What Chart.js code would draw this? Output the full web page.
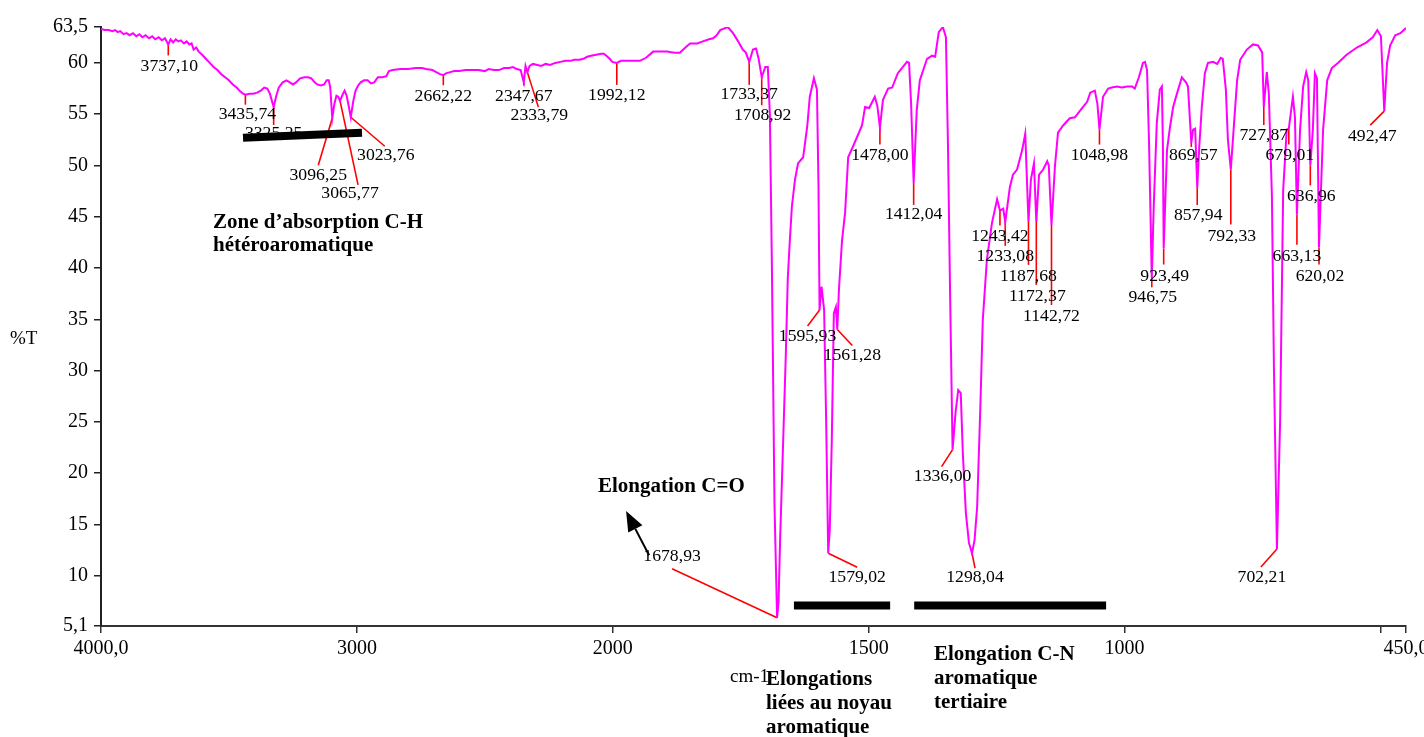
<!DOCTYPE html>
<html>
<head>
<meta charset="utf-8">
<script src="https://cdn.jsdelivr.net/npm/chart.js@4.4.0/dist/chart.umd.min.js"></script>
<style>
  html, body { margin: 0; padding: 0; background: #fff; }
  #wrap { width: 1424px; height: 737px; position: relative; }
</style>
</head>
<body>
<div id="wrap"><canvas id="spectre"></canvas></div>
<script>
// spectre IR : nombre d'onde (cm-1) et transmittance (%T)
const wavenumbers = [
  4000, 3985, 3970, 3955, 3945, 3935, 3925, 3912, 3900, 3888, 3875, 3862, 3850, 3838, 3826, 3812,
  3800, 3788, 3775, 3762, 3750, 3737.1, 3728, 3718, 3708, 3698, 3688, 3676, 3665, 3655, 3646, 3638,
  3628, 3618, 3605, 3590, 3575, 3560, 3545, 3530, 3515, 3500, 3485, 3470, 3455, 3445, 3435.74, 3420,
  3405, 3390, 3375, 3362, 3350, 3340, 3325.25, 3315, 3305, 3290, 3275, 3262, 3250, 3238, 3222, 3205,
  3190, 3178, 3165, 3155, 3140, 3128, 3118, 3110, 3104, 3096.25, 3088, 3080, 3073, 3065.77, 3056, 3048,
  3040, 3032, 3023.76, 3014, 3005, 2995, 2985, 2972, 2958, 2945, 2932, 2918, 2900, 2885, 2875, 2860,
  2830, 2800, 2770, 2745, 2730, 2705, 2690, 2675, 2662.22, 2650, 2635, 2620, 2600, 2575, 2550, 2525,
  2500, 2485, 2465, 2445, 2425, 2405, 2390, 2375, 2360, 2347.67, 2341, 2333.79, 2325, 2312, 2295, 2280,
  2262, 2245, 2225, 2205, 2185, 2165, 2150, 2130, 2115, 2100, 2085, 2065, 2045, 2035, 2025, 2012,
  2002, 1992.12, 1984, 1965, 1947, 1935, 1921, 1905, 1894, 1880, 1869, 1858, 1849, 1835, 1824, 1812,
  1804, 1797, 1790, 1775, 1765, 1755, 1746, 1740, 1733.37, 1726, 1720, 1715, 1708.92, 1702, 1697, 1693,
  1689, 1684, 1678.93, 1676, 1673, 1667, 1662, 1658, 1654, 1650, 1644, 1638, 1628, 1620, 1615, 1607,
  1601, 1598, 1595.93, 1592, 1587, 1583, 1579.02, 1576, 1572, 1568, 1564, 1561.28, 1558, 1552, 1546, 1540,
  1531, 1513, 1507, 1499, 1488, 1483, 1478, 1472, 1462, 1454, 1443, 1425, 1421, 1417, 1412.04, 1406,
  1400, 1386, 1376, 1370, 1363, 1355, 1349, 1345, 1341, 1336, 1330, 1325, 1320, 1316, 1310, 1304,
  1298.04, 1293, 1288, 1282, 1277, 1269, 1259, 1249, 1243.42, 1237, 1233.08, 1224, 1218, 1210, 1200, 1194,
  1187.68, 1183, 1177, 1172.37, 1167, 1159, 1151, 1148, 1142.72, 1136, 1130, 1120, 1107, 1097, 1083, 1073,
  1067, 1058, 1053, 1048.98, 1042, 1032, 1025, 1015, 1005, 995, 985, 980, 972, 964, 960, 956,
  952, 946.75, 943, 937, 931, 927, 925, 923.49, 917, 911, 905, 897, 888, 880, 876, 869.57,
  866, 862, 857.94, 854, 849, 843, 837, 827, 819, 812, 808, 802, 798, 792.33, 786, 780,
  774, 761, 749, 739, 731, 727.87, 722, 718, 712, 708, 702.21, 696, 692, 690, 683, 679.01,
  671, 667, 663.13, 657, 651, 645, 641, 636.96, 632, 628, 624, 620.02, 612, 604, 595, 583,
  566, 546, 527, 515, 506, 499, 492.47, 487, 481, 471, 461, 450
];
const transmittance = [
  63.3, 63.2, 63.2, 63.1, 63.2, 63.0, 63.1, 62.8, 62.9, 62.7, 62.9, 62.6, 62.8, 62.5, 62.7, 62.4,
  62.6, 62.3, 62.5, 62.2, 62.4, 61.8, 62.3, 62.0, 62.3, 62.1, 62.2, 61.9, 62.1, 61.8, 61.9, 61.3,
  61.5, 61.1, 60.8, 60.4, 60.0, 59.6, 59.3, 58.9, 58.6, 58.3, 57.9, 57.6, 57.2, 57.0, 56.9, 57.0,
  57.0, 57.1, 57.3, 57.6, 57.5, 57.0, 55.7, 56.8, 57.6, 58.1, 58.3, 58.1, 57.9, 58.1, 58.5, 58.6,
  58.6, 58.5, 58.1, 57.9, 57.8, 57.9, 58.3, 58.3, 57.6, 54.6, 56.0, 56.8, 56.7, 56.3, 56.9, 57.3,
  56.8, 55.8, 54.7, 56.3, 57.3, 57.8, 58.1, 58.3, 58.3, 58.0, 58.1, 58.6, 58.6, 58.7, 59.2, 59.3,
  59.4, 59.4, 59.5, 59.5, 59.4, 59.3, 59.1, 58.9, 58.8, 59.0, 59.1, 59.2, 59.2, 59.3, 59.3, 59.3,
  59.2, 59.4, 59.3, 59.3, 59.5, 59.5, 59.6, 59.4, 59.3, 58.1, 59.7, 59.1, 59.7, 59.9, 59.8, 59.7,
  59.9, 59.8, 60.0, 60.1, 60.2, 60.2, 60.3, 60.3, 60.4, 60.6, 60.7, 60.8, 60.9, 60.9, 60.7, 60.4,
  60.1, 60.0, 60.2, 60.2, 60.2, 60.5, 61.1, 61.1, 61.1, 61.0, 61.0, 61.5, 61.9, 61.9, 62.1, 62.3,
  62.4, 62.7, 63.2, 63.5, 62.9, 62.1, 61.3, 61.0, 60.1, 61.3, 61.4, 60.4, 58.6, 59.6, 59.6, 55.0,
  40.0, 17.0, 5.9, 7.5, 13.5, 23.2, 31.3, 39.0, 42.7, 46.0, 48.6, 50.2, 50.8, 53.8, 56.7, 58.5,
  57.4, 48.0, 35.9, 38.2, 35.9, 25.0, 12.2, 14.5, 23.2, 35.6, 36.2, 34.0, 37.9, 42.7, 45.4, 50.8,
  51.8, 53.9, 55.7, 55.6, 56.7, 55.8, 53.7, 56.4, 57.5, 57.6, 59.0, 60.1, 60.0, 56.0, 48.3, 55.4,
  58.3, 60.4, 60.7, 60.6, 63.0, 63.5, 62.5, 52.0, 38.0, 22.3, 26.0, 28.1, 27.8, 22.0, 16.1, 13.2,
  12.2, 13.5, 16.7, 26.0, 34.9, 40.8, 44.4, 46.7, 45.6, 45.8, 44.5, 47.9, 49.1, 49.6, 51.5, 53.1,
  44.5, 48.6, 50.2, 44.5, 49.1, 49.6, 50.4, 50.0, 44.2, 49.9, 53.2, 53.9, 54.6, 54.7, 55.6, 56.2,
  57.1, 57.3, 56.0, 53.5, 56.7, 57.5, 57.6, 57.7, 57.6, 57.7, 57.7, 57.5, 58.6, 60.0, 60.1, 59.3,
  52.0, 39.0, 45.9, 54.1, 57.4, 57.7, 52.0, 41.9, 51.5, 53.8, 55.7, 57.1, 58.6, 58.1, 57.7, 52.2,
  53.5, 53.6, 47.8, 51.8, 55.7, 59.0, 60.0, 60.1, 59.9, 60.5, 60.4, 57.4, 52.5, 49.6, 54.1, 58.3,
  60.3, 61.3, 61.8, 61.7, 61.0, 55.7, 59.1, 57.0, 47.0, 30.0, 12.6, 25.0, 40.0, 47.6, 53.5, 53.6,
  56.7, 54.7, 45.2, 53.5, 57.7, 59.1, 58.3, 50.0, 53.5, 59.0, 58.5, 42.0, 53.5, 58.3, 59.5, 60.0,
  60.8, 61.5, 62.0, 62.5, 63.2, 62.6, 55.3, 60.0, 61.7, 62.7, 62.9, 63.4
];

const xTicks = [4000, 3000, 2000, 1500, 1000, 500, 450];
const xTickLabels = ['4000,0', '3000', '2000', '1500', '1000', '', '450,0'];
const yTicks = [5.1, 10, 15, 20, 25, 30, 35, 40, 45, 50, 55, 60, 63.5];

// pics annotés
const peakWavenumbers = [
  3737.1, 3435.74, 3325.25, 3096.25, 3065.77, 3023.76, 2662.22, 2347.67, 2333.79, 1992.12,
  1733.37, 1708.92, 1678.93, 1595.93, 1579.02, 1561.28, 1478, 1412.04, 1336, 1298.04,
  1243.42, 1233.08, 1187.68, 1172.37, 1142.72, 1048.98, 946.75, 923.49, 869.57, 857.94,
  792.33, 727.87, 679.01, 636.96, 663.13, 620.02, 702.21, 492.47
];
const peakLabels = [
  '3737,10', '3435,74', '3325,25', '3096,25', '3065,77', '3023,76', '2662,22', '2347,67', '2333,79', '1992,12',
  '1733,37', '1708,92', '1678,93', '1595,93', '1579,02', '1561,28', '1478,00', '1412,04', '1336,00', '1298,04',
  '1243,42', '1233,08', '1187,68', '1172,37', '1142,72', '1048,98', '946,75', '923,49', '869,57', '857,94',
  '792,33', '727,87', '679,01', '636,96', '663,13', '620,02', '702,21', '492,47'
];
// [fin du trait dx, dy, texte dx, dy] en px depuis le pic
const peakLayout = [
  [0, 11, 1, 22], [0, 10, 2, 20], [0, 18, 0, 27], [-14, 47, -14, 57], [18, 84, 10, 93],
  [34, 29, 35, 38], [0, 10, 0, 21], [0, 3, 0, 14], [11, 35, 12, 43], [0, 22, 0, 33],
  [0, 23, 0, 33], [0, 28, 1, 38], [-105, -49, -105, -61], [-12, 16, -12, 26], [29, 14, 29, 24],
  [15, 16, 15, 26], [0, 17, 0, 28], [0, 22, 0, 32], [-11, 17, -10, 27], [3, 15, 3, 24],
  [0, 15, 0, 26], [0, 24, 0, 35], [0, 43, 0, 55], [0, 63, 1, 75], [0, 80, 0, 92],
  [0, 15, 0, 26], [0, 9, 1, 19], [0, 16, 1, 28], [0, 4, 2, 13], [0, 17, 1, 27],
  [0, 55, 1, 67], [0, 18, 0, 29], [0, 16, 1, 27], [0, 20, 1, 31], [0, 30, 0, 42],
  [0, 17, 1, 29], [-16, 18, -15, 28], [-14, 14, -12, 25]
];

// zones (barres noires) : [cm-1 début, cm-1 fin, %T début, %T fin]
const zoneBars = [
  [3445, 2980, 52.7, 53.2],
  [1646, 1458, 7.1, 7.1],
  [1411, 1036, 7.1, 7.1]
];
// flèche C=O : [cm-1, %T] queue puis pointe
const arrowFrom = [1929, 12.0];
const arrowTo = [1974, 16.3];

const boldNotes = [
  ['Zone d\u2019absorption C-H', 213, 228],
  ['hétéroaromatique', 213, 251],
  ['Elongation C=O', 598, 492],
  ['Elongations', 766, 685],
  ['liées au noyau', 766, 709],
  ['aromatique', 766, 733],
  ['Elongation C-N', 934, 660],
  ['aromatique', 934, 684],
  ['tertiaire', 934, 708]
];

// l'échelle est comprimée d'un facteur 2 au-dessus de 2000 cm-1
function toAxis(w) {
  return w >= 2000 ? (4000 - w) / 2 : 1000 + (2000 - w);
}

function stretchText(ctx, text, x, y, sx) {
  ctx.save();
  ctx.translate(x, y);
  ctx.scale(sx, 1);
  ctx.fillText(text, 0, 0);
  ctx.restore();
}

const serif = '"Liberation Serif", "Times New Roman", serif';

const annotations = {
  id: 'annotations',
  beforeDatasetsDraw(chart) {
    const { ctx, scales: { x, y } } = chart;
    ctx.save();
    ctx.strokeStyle = '#ff0000';
    ctx.lineWidth = 1.6;
    peakWavenumbers.forEach((w, i) => {
      const t = transmittance[wavenumbers.indexOf(w)];
      const px = x.getPixelForValue(toAxis(w));
      const py = y.getPixelForValue(t);
      const l = peakLayout[i];
      ctx.beginPath();
      ctx.moveTo(px, py);
      ctx.lineTo(px + l[0], py + l[1]);
      ctx.stroke();
    });
    ctx.restore();
  },
  afterDatasetsDraw(chart) {
    const { ctx, scales: { x, y } } = chart;
    ctx.save();
    ctx.fillStyle = '#000';

    ctx.font = '17px ' + serif;
    ctx.textAlign = 'center';
    ctx.textBaseline = 'middle';
    peakWavenumbers.forEach((w, i) => {
      const t = transmittance[wavenumbers.indexOf(w)];
      const px = x.getPixelForValue(toAxis(w));
      const py = y.getPixelForValue(t);
      const l = peakLayout[i];
      stretchText(ctx, peakLabels[i], px + l[2], py + l[3], 1.04);
    });

    ctx.textAlign = 'left';
    ctx.textBaseline = 'alphabetic';
    ctx.font = '19px ' + serif;
    ctx.fillText('%T', 10, 344);
    ctx.fillText('cm-1', 730, 682);

    ctx.font = 'bold 20px ' + serif;
    boldNotes.forEach(n => stretchText(ctx, n[0], n[1], n[2], 1.05));

    ctx.strokeStyle = '#000';
    ctx.lineWidth = 8;
    ctx.lineCap = 'butt';
    zoneBars.forEach(b => {
      ctx.beginPath();
      ctx.moveTo(x.getPixelForValue(toAxis(b[0])), y.getPixelForValue(b[2]));
      ctx.lineTo(x.getPixelForValue(toAxis(b[1])), y.getPixelForValue(b[3]));
      ctx.stroke();
    });

    // flèche
    const ax0 = x.getPixelForValue(toAxis(arrowFrom[0]));
    const ay0 = y.getPixelForValue(arrowFrom[1]);
    const ax1 = x.getPixelForValue(toAxis(arrowTo[0]));
    const ay1 = y.getPixelForValue(arrowTo[1]);
    const ang = Math.atan2(ay1 - ay0, ax1 - ax0);
    const head = 20;
    ctx.lineWidth = 2;
    ctx.beginPath();
    ctx.moveTo(ax0, ay0);
    ctx.lineTo(ax1 - head * Math.cos(ang), ay1 - head * Math.sin(ang));
    ctx.stroke();
    ctx.beginPath();
    ctx.moveTo(ax1, ay1);
    ctx.lineTo(ax1 - head * Math.cos(ang) + 8 * Math.sin(ang), ay1 - head * Math.sin(ang) - 8 * Math.cos(ang));
    ctx.lineTo(ax1 - head * Math.cos(ang) - 8 * Math.sin(ang), ay1 - head * Math.sin(ang) + 8 * Math.cos(ang));
    ctx.closePath();
    ctx.fill();
    ctx.restore();
  }
};

new Chart(document.getElementById('spectre'), {
  type: 'line',
  data: {
    datasets: [{
      data: wavenumbers.map((w, i) => ({ x: toAxis(w), y: transmittance[i] })),
      borderColor: '#ff00ff',
      borderWidth: 2,
      pointRadius: 0,
      tension: 0,
      fill: false
    }]
  },
  options: {
    responsive: true,
    maintainAspectRatio: false,
    animation: false,
    layout: { padding: { top: 27, right: 18, left: 0, bottom: 0 } },
    plugins: {
      legend: { display: false },
      tooltip: { enabled: false }
    },
    scales: {
      x: {
        type: 'linear',
        min: 0,
        max: toAxis(450),
        afterBuildTicks: (scale) => {
          scale.ticks = xTicks.map((w) => ({ value: toAxis(w) }));
        },
        afterFit: (scale) => {
          scale.height = 111;
          scale.paddingLeft = 0;
          scale.paddingRight = 0;
        },
        ticks: {
          autoSkip: false,
          maxRotation: 0,
          padding: 4,
          color: '#000',
          font: { family: serif, size: 20 },
          callback: (value, index) => xTickLabels[index]
        },
        grid: { display: true, drawOnChartArea: false, tickLength: 7, color: '#333', lineWidth: 1.5 },
        border: { display: true, color: '#333', width: 2 }
      },
      y: {
        min: 5.1,
        max: 63.5,
        afterBuildTicks: (scale) => {
          scale.ticks = yTicks.map((v) => ({ value: v }));
        },
        afterFit: (scale) => {
          scale.width = 101;
        },
        ticks: {
          padding: 6,
          color: '#000',
          font: { family: serif, size: 20 },
          callback: (value) => String(value).replace('.', ',')
        },
        grid: { display: true, drawOnChartArea: false, tickLength: 7, color: '#222', lineWidth: 1.5 },
        border: { display: true, color: '#222', width: 2 }
      }
    }
  },
  plugins: [annotations]
});
</script>
</body>
</html>
